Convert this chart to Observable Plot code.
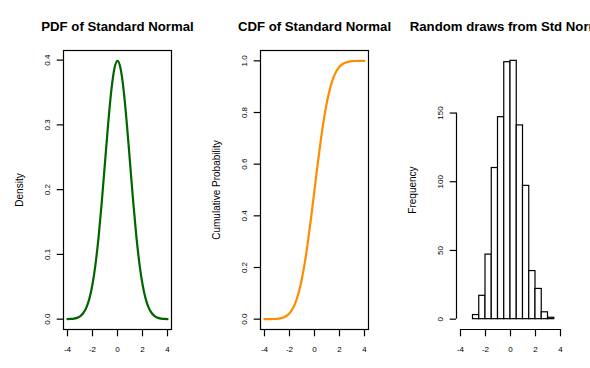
<!DOCTYPE html>
<html>
<head>
<meta charset="utf-8">
<script src="https://cdn.jsdelivr.net/npm/d3@7"></script>
<script src="https://cdn.jsdelivr.net/npm/@observablehq/plot@0.6"></script>
<style>
  html, body { margin: 0; padding: 0; background: #fff; overflow: hidden; }
  #wrap { position: relative; width: 590px; height: 368px; background: #fff; }
  .panel { position: absolute; top: 0; }
  .panel svg { max-width: none !important; overflow: visible; }
</style>
</head>
<body>
<div id="wrap"></div>
<script>
// ---- data ----
const titles = ["PDF of Standard Normal", "CDF of Standard Normal", "Random draws from Std Normal"];
const yLabels = ["Density", "Cumulative Probability", "Frequency"];
const xTicks = [-4, -2, 0, 2, 4];
const pdfTicks = [0, 0.1, 0.2, 0.3, 0.4];
const cdfTicks = [0, 0.2, 0.4, 0.6, 0.8, 1.0];
const histTicks = [0, 50, 100, 150];

const gridX = [-4, -3.75, -3.5, -3.25, -3, -2.75, -2.5, -2.25, -2, -1.75, -1.5, -1.25, -1, -0.75, -0.5, -0.25,
  0, 0.25, 0.5, 0.75, 1, 1.25, 1.5, 1.75, 2, 2.25, 2.5, 2.75, 3, 3.25, 3.5, 3.75, 4];
const pdfY = [0.0001, 0.0004, 0.0009, 0.0020, 0.0044, 0.0091, 0.0175, 0.0317, 0.0540, 0.0863, 0.1295, 0.1826, 0.2420, 0.3011, 0.3521, 0.3867,
  0.3989, 0.3867, 0.3521, 0.3011, 0.2420, 0.1826, 0.1295, 0.0863, 0.0540, 0.0317, 0.0175, 0.0091, 0.0044, 0.0020, 0.0009, 0.0004, 0.0001];
const cdfY = [0.0000, 0.0001, 0.0002, 0.0006, 0.0013, 0.0030, 0.0062, 0.0122, 0.0228, 0.0401, 0.0668, 0.1056, 0.1587, 0.2266, 0.3085, 0.4013,
  0.5000, 0.5987, 0.6915, 0.7734, 0.8413, 0.8944, 0.9332, 0.9599, 0.9772, 0.9878, 0.9938, 0.9970, 0.9987, 0.9994, 0.9998, 0.9999, 1.0000];

const histBreaks = [-3, -2.5, -2, -1.5, -1, -0.5, 0, 0.5, 1, 1.5, 2, 2.5, 3, 3.5];
const histCounts = [3, 17, 47, 110, 147, 187, 188, 141, 97, 35, 22, 5, 1];

// ---- tables ----
const pdfData = gridX.map((x, i) => ({x, y: pdfY[i]}));
const cdfData = gridX.map((x, i) => ({x, y: cdfY[i]}));
const bins = histCounts.map((c, i) => ({x1: histBreaks[i], x2: histBreaks[i + 1], count: c}));

// ---- layout ----
const lefts = [0, 197, 393], widths = [197, 196, 197];
const H = 368, FW = 108;
const ML = 63, MT = 50, MB = 39;
const FH = H - MT - MB;
const XT = 7.3, YT = 6.3, LW = 1.2;
const FONT = "'Liberation Sans', Arial, Helvetica, sans-serif";
const pad = (lo, hi) => { const s = (hi - lo) * 0.04; return [lo - s, hi + s]; };
const xDom = pad(-4, 4);

function common(i, yTickVals, yFmt) {
  return [
    // tick marks drawn as short rules in the margins
    Plot.ruleX(xTicks, {x: d => d, insetTop: FH, insetBottom: -XT, stroke: "black", strokeWidth: LW}),
    Plot.ruleY(yTickVals, {y: d => d, insetRight: FW, insetLeft: -YT, stroke: "black", strokeWidth: LW}),
    Plot.axisX(xTicks, {anchor: "bottom", tickSize: 0, tickPadding: XT + 10, fontSize: 8, tickFormat: d => String(d), label: null, fill: "black"}),
    Plot.axisY(yTickVals, {anchor: "left", tickSize: 0, tickPadding: YT + 7.7, fontSize: 8, tickRotate: -90,
      textAnchor: "middle", lineAnchor: "bottom", tickFormat: yFmt, label: null, fill: "black"}),
    Plot.text([yLabels[i]], {frameAnchor: "left", dx: -40.8, rotate: -90, textAnchor: "middle", lineAnchor: "bottom", fontSize: 10}),
    Plot.text([titles[i]], {frameAnchor: "top", dy: -19.3, lineAnchor: "bottom", textAnchor: "middle", fontSize: 13.2, fontWeight: "bold"})
  ];
}

function make(i, yDomain, marks) {
  return Plot.plot({
    width: widths[i], height: H,
    marginLeft: ML, marginRight: widths[i] - ML - FW, marginTop: MT, marginBottom: MB,
    x: {domain: xDom, axis: null},
    y: {domain: yDomain, axis: null},
    style: {fontFamily: FONT, background: "white", color: "black", overflow: "visible"},
    marks
  });
}

const f1 = d3.format(".1f");
const yPdf = pad(0, 0.3989);
const yCdf = pad(0, 1);
const yHist = pad(0, d3.max(histCounts));

const p1 = make(0, yPdf, [
  Plot.frame({stroke: "black", strokeWidth: LW}),
  Plot.line(pdfData, {x: "x", y: "y", stroke: "#006400", strokeWidth: 2.2, curve: "monotone-x"}),
  ...common(0, pdfTicks, f1)
]);
const p2 = make(1, yCdf, [
  Plot.frame({stroke: "black", strokeWidth: LW}),
  Plot.line(cdfData, {x: "x", y: "y", stroke: "#FF8C00", strokeWidth: 2.2, curve: "monotone-x"}),
  ...common(1, cdfTicks, f1)
]);
const p3 = make(2, yHist, [
  Plot.rectY(bins, {x1: "x1", x2: "x2", y: "count", fill: "white", stroke: "black", strokeWidth: LW}),
  Plot.ruleY([yHist[0]], {x1: xTicks[0], x2: xTicks[xTicks.length - 1], stroke: "black", strokeWidth: LW}),
  Plot.ruleX([xDom[0]], {y1: histTicks[0], y2: histTicks[histTicks.length - 1], stroke: "black", strokeWidth: LW}),
  ...common(2, histTicks, d => String(d))
]);

const wrap = document.getElementById("wrap");
[p1, p2, p3].forEach((p, i) => {
  const d = document.createElement("div");
  d.className = "panel";
  d.style.left = lefts[i] + "px";
  d.appendChild(p);
  wrap.appendChild(d);
});
</script>
</body>
</html>
